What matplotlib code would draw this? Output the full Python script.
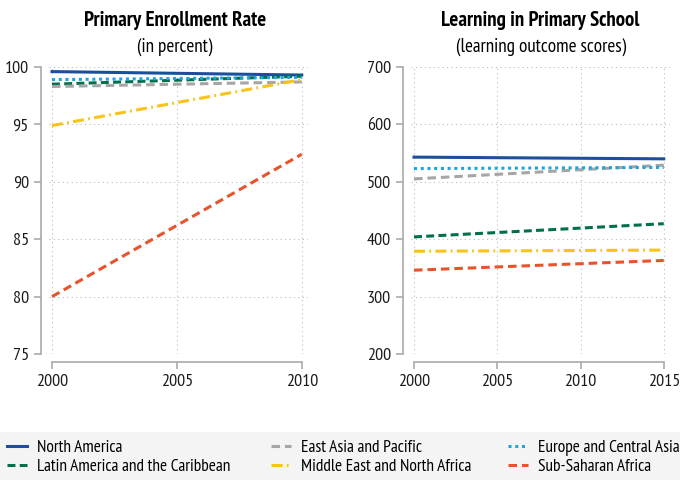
import matplotlib.pyplot as plt
from matplotlib.patches import Rectangle

plt.rcParams['font.family'] = ['PT Sans Narrow', 'Asap Condensed', 'Liberation Sans', 'DejaVu Sans']

regions = ["North America", "Latin America and the Caribbean", "East Asia and Pacific",
           "Middle East and North Africa", "Europe and Central Asia", "Sub-Saharan Africa"]
colors = ["#1b4f9c", "#00704a", "#a6a6a6", "#f8c41c", "#1fa5de", "#e8532b"]
styles = ["-", (0, (2.6, 1.4)), (0, (2.8, 1.6)), (0, (3.6, 1.4, 0.6, 1.4)), (0, (1, 1.2)), (0, (2.8, 1.6))]

enroll_years = [2000, 2010]
enroll = {
    "North America": [99.6, 99.3],
    "Latin America and the Caribbean": [98.5, 99.2],
    "East Asia and Pacific": [98.3, 98.7],
    "Middle East and North Africa": [94.9, 98.9],
    "Europe and Central Asia": [98.9, 99.1],
    "Sub-Saharan Africa": [80.0, 92.4],
}

learn_years = [2000, 2015]
learn = {
    "North America": [543, 540],
    "Latin America and the Caribbean": [404, 427],
    "East Asia and Pacific": [505, 529],
    "Middle East and North Africa": [379, 381],
    "Europe and Central Asia": [523, 525],
    "Sub-Saharan Africa": [346, 363],
}

fig = plt.figure(figsize=(6.8, 4.8), dpi=100)
fig.patches.append(Rectangle((0, 0), 1, 48 / 480, transform=fig.transFigure,
                             facecolor="#f4f4f4", edgecolor="none", zorder=0))

ax1 = fig.add_axes([49 / 680, 1 - 354 / 480, 259 / 680, 287 / 480])
ax2 = fig.add_axes([411 / 680, 1 - 354 / 480, 259 / 680, 287 / 480])

handles = []
for name, c, ls in zip(regions, colors, styles):
    h, = ax1.plot(enroll_years, enroll[name], color=c, ls=ls, lw=2.2, label=name)
    ax2.plot(learn_years, learn[name], color=c, ls=ls, lw=2.2)
    handles.append(h)


def style(ax, xt, ylim, yt):
    ax.set_xticks(xt)
    ax.set_yticks(yt)
    ax.set_ylim(ylim)
    ax.set_xlim(xt[0] - 0.012 * (xt[-1] - xt[0]), xt[-1] + 0.025 * (xt[-1] - xt[0]))
    ax.grid(True, ls=(0, (1, 3)), color="#bbbbbb", lw=0.8)
    for s in ["top", "right"]:
        ax.spines[s].set_visible(False)
    for s in ["left", "bottom"]:
        ax.spines[s].set_color("#aaaaaa")
        ax.spines[s].set_linewidth(1.2)
        ax.spines[s].set_position(("outward", 6))
    ax.spines["bottom"].set_bounds(xt[0], xt[-1])
    ax.tick_params(colors="#aaaaaa", labelcolor="#1a1a1a", labelsize=13, length=5, width=1.2)


style(ax1, [2000, 2005, 2010], (75, 100), [75, 80, 85, 90, 95, 100])
style(ax2, [2000, 2005, 2010, 2015], (200, 700), [200, 300, 400, 500, 600, 700])

fig.text(175 / 680, 1 - 21 / 480, "Primary Enrollment Rate", ha="center", va="center", fontsize=15, fontweight="bold")
fig.text(175 / 680, 1 - 47 / 480, "(in percent)", ha="center", va="center", fontsize=13.8)
fig.text(540 / 680, 1 - 21 / 480, "Learning in Primary School", ha="center", va="center", fontsize=15, fontweight="bold")
fig.text(541 / 680, 1 - 47 / 480, "(learning outcome scores)", ha="center", va="center", fontsize=13.8)

# legend: three columns of two entries, placed like the reference
for col, x in enumerate([7, 271, 508]):
    fig.legend(handles=handles[2 * col:2 * col + 2], loc="center left",
               bbox_to_anchor=(x / 680, 1 - 457.5 / 480), frameon=False, fontsize=12.5,
               handlelength=1.15, handletextpad=0.6, labelspacing=0.2,
               borderaxespad=0, borderpad=0)

fig.savefig("out.png", dpi=100)
